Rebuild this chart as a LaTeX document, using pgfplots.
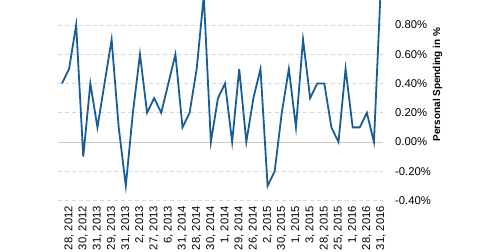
\documentclass[border=0pt]{standalone}
\usepackage{fontspec}
\setmainfont{Liberation Sans}
\usepackage{pgfplots}
\pgfplotsset{compat=1.18}
\definecolor{linec}{RGB}{23,94,150}
\definecolor{gridc}{RGB}{215,215,215}
\definecolor{zeroc}{RGB}{200,200,200}
\begin{document}
\begin{tikzpicture}
\useasboundingbox (0bp,0bp) rectangle (480bp,252bp);
\clip (0bp,0bp) rectangle (480bp,252bp);
\begin{axis}[
  at={(58.3bp,51.5bp)}, anchor=south west,
  scale only axis, width=325bp, height=204.75bp,
  xmin=-0.52, xmax=45.32, ymin=-0.4, ymax=1.0,
  axis line style={draw=none}, major tick length=0pt,
  xtick={1,3,...,45},
  xticklabels={{28, 2012}, {30, 2012}, {31, 2013}, {29, 2013}, {31, 2013}, {2, 2013}, {27, 2013}, {6, 2013}, {31, 2014}, {28, 2014}, {30, 2014}, {1, 2014}, {29, 2014}, {26, 2014}, {2, 2015}, {30, 2015}, {1, 2015}, {3, 2015}, {28, 2015}, {25, 2015}, {1, 2016}, {28, 2016}, {31, 2016}},
  xticklabel style={rotate=90, anchor=east, inner sep=0pt, font=\fontsize{11.3}{13}\selectfont},
  xticklabel shift=5.5bp,
  ytick={-0.4,-0.2,0.2,0.4,0.6,0.8,1.0},
  yticklabels={-0.40\%,-0.20\%,0.20\%,0.40\%,0.60\%,0.80\%,1.00\%},
  extra y ticks={0}, extra y tick labels={0.00\%},
  extra y tick style={grid style={solid, draw=zeroc, line width=0.8bp}},
  yticklabel pos=right,
  yticklabel style={anchor=west, inner sep=0pt, font=\fontsize{11.3}{13}\selectfont},
  yticklabel shift=11.7bp,
  ymajorgrids,
  grid style={draw=gridc, line width=0.8bp, dash pattern=on 4bp off 3bp},
]
\addplot[linec, line width=1.8bp, mark=none] table {
x y
0 0.4
1 0.5
2 0.8
3 -0.1
4 0.4
5 0.1
6 0.4
7 0.7
8 0.1
9 -0.3
10 0.2
11 0.6
12 0.2
13 0.3
14 0.2
15 0.4
16 0.6
17 0.1
18 0.2
19 0.5
20 1.0
21 0.0
22 0.3
23 0.4
24 0.0
25 0.5
26 0.0
27 0.3
28 0.5
29 -0.3
30 -0.2
31 0.2
32 0.5
33 0.1
34 0.7
35 0.3
36 0.4
37 0.4
38 0.1
39 0.0
40 0.5
41 0.1
42 0.1
43 0.2
44 0.0
45 1.1
};
\end{axis}
\node[rotate=90, font=\bfseries\fontsize{10}{12}\selectfont, inner sep=0pt] at (437.5bp,167.5bp) {Personal Spending in \%};
\end{tikzpicture}
\end{document}
